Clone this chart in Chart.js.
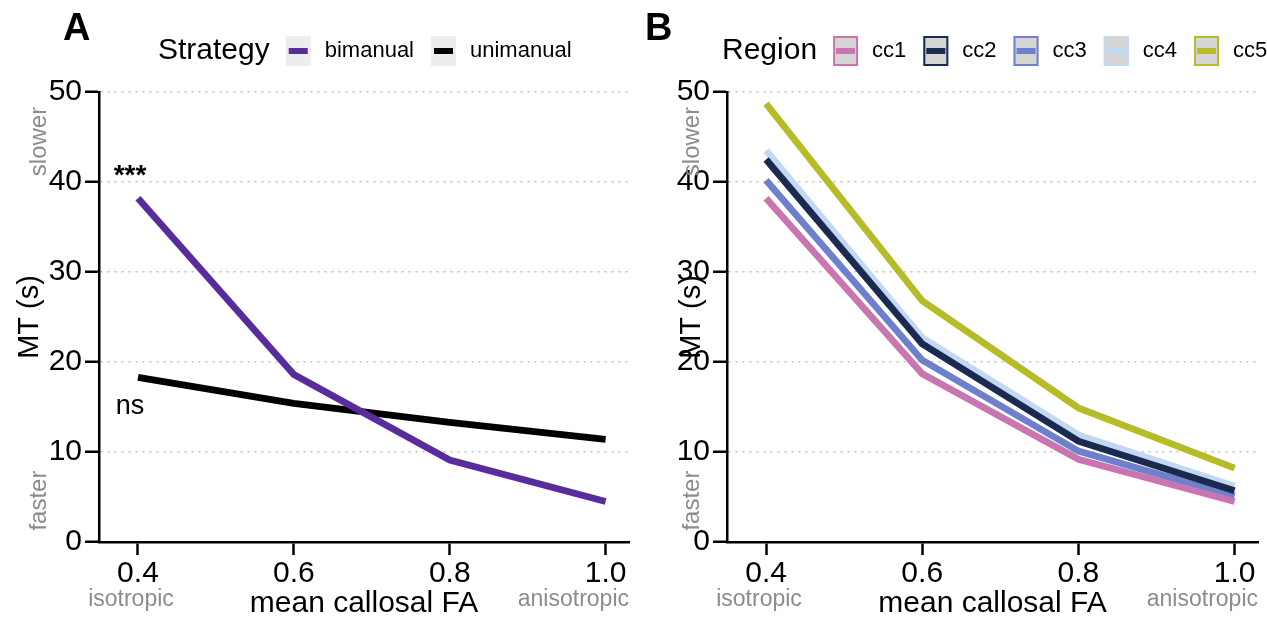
<!DOCTYPE html>
<html>
<head>
<meta charset="utf-8">
<script src="https://cdn.jsdelivr.net/npm/chart.js@4.4.0/dist/chart.umd.min.js"></script>
<style>
  html, body { margin: 0; padding: 0; background: #fff; }
  #wrap { position: relative; width: 1267px; height: 619px; overflow: hidden; }
  #chartA { position: absolute; left: 0; top: 0; }
  #chartB { position: absolute; left: 628px; top: 0; }
</style>
</head>
<body>
<div id="wrap">
  <canvas id="chartA" width="640" height="619"></canvas>
  <canvas id="chartB" width="639" height="619"></canvas>
</div>
<script>
// data
const faValues = [0.4, 0.6, 0.8, 1.0];
const mtTicks = [0, 10, 20, 30, 40, 50];

const bimanual = [38.2, 18.6, 9.1, 4.5];
const unimanual = [18.3, 15.4, 13.3, 11.4];

const cc1 = [38.2, 18.7, 9.2, 4.5];
const cc2 = [42.5, 22.0, 11.2, 5.7];
const cc3 = [40.2, 20.2, 10.1, 5.1];
const cc4 = [43.5, 22.7, 11.9, 6.2];
const cc5 = [48.7, 26.8, 14.9, 8.2];

const FONT = '"Liberation Sans", Arial, Helvetica, sans-serif';

function toPoints(vals) {
  return faValues.map((x, i) => ({ x: x, y: vals[i] }));
}

function line(label, vals, color) {
  return {
    label: label,
    data: toPoints(vals),
    borderColor: color,
    backgroundColor: color,
    borderWidth: 6.8,
    pointRadius: 0,
    tension: 0,
    fill: false
  };
}

// extra drawing: panel letter, legend, side notes
const decor = {
  id: 'decor',
  afterDraw(chart, args, o) {
    const ctx = chart.ctx;
    const xs = chart.scales.x, ys = chart.scales.y;
    ctx.save();

    ctx.fillStyle = '#000';
    ctx.font = 'bold 38px ' + FONT;
    ctx.textAlign = 'left';
    ctx.textBaseline = 'alphabetic';
    ctx.fillText(o.letter, o.letterX, 40);

    // slower / faster
    ctx.fillStyle = '#8c8c8c';
    ctx.font = '24px ' + FONT;
    ctx.textAlign = 'center';
    ctx.textBaseline = 'middle';
    [['slower', 44.5], ['faster', 4.6]].forEach(([t, v]) => {
      ctx.save();
      ctx.translate(o.sideX, ys.getPixelForValue(v));
      ctx.rotate(-Math.PI / 2);
      ctx.fillText(t, 0, 0);
      ctx.restore();
    });

    // isotropic / anisotropic
    ctx.font = '23px ' + FONT;
    ctx.textAlign = 'center';
    ctx.fillText('isotropic', xs.getPixelForValue(faValues[0]) - 7, 600);
    ctx.textAlign = 'right';
    ctx.fillText('anisotropic', chart.chartArea.right, 600);

    // legend
    const cy = 51;
    let x = o.legendX;
    ctx.textAlign = 'left';
    ctx.fillStyle = '#000';
    ctx.font = '30px ' + FONT;
    ctx.fillText(o.legendTitle, x, cy);
    x += ctx.measureText(o.legendTitle).width + 16;
    chart.data.datasets.forEach(ds => {
      if (o.boxed) {
        ctx.fillStyle = '#d5d5d5';
        ctx.fillRect(x, cy - 15, 25, 30);
        ctx.strokeStyle = ds.borderColor;
        ctx.lineWidth = 2;
        ctx.strokeRect(x + 1, cy - 14, 23, 28);
      } else {
        ctx.fillStyle = '#ededed';
        ctx.fillRect(x, cy - 15, 25, 30);
      }
      ctx.strokeStyle = ds.borderColor;
      ctx.lineWidth = 6;
      ctx.beginPath();
      ctx.moveTo(x + 3, cy);
      ctx.lineTo(x + 22, cy);
      ctx.stroke();
      x += 25 + 14;
      ctx.fillStyle = '#000';
      ctx.font = '22px ' + FONT;
      ctx.fillText(ds.label, x, cy);
      x += ctx.measureText(ds.label).width + 17;
    });

    // significance notes
    (o.notes || []).forEach(n => {
      const ds = chart.data.datasets[n.ds];
      const px = xs.getPixelForValue(ds.data[0].x) - 8;
      const py = ys.getPixelForValue(ds.data[0].y) + n.dy;
      ctx.fillStyle = '#000';
      ctx.font = n.font + ' ' + FONT;
      ctx.textAlign = 'center';
      ctx.textBaseline = 'middle';
      ctx.fillText(n.text, px, py);
    });

    ctx.restore();
  }
};

function makeOptions(p) {
  return {
    responsive: false,
    animation: false,
    devicePixelRatio: 1,
    layout: { padding: { top: 92, right: p.padRight, left: 0, bottom: 0 } },
    plugins: {
      legend: { display: false },
      tooltip: { enabled: false },
      decor: p
    },
    scales: {
      x: {
        type: 'linear',
        min: 0.35,
        max: 1.03,
        afterBuildTicks: s => { s.ticks = faValues.map(v => ({ value: v })); },
        afterFit: s => { s.height = 77; },
        ticks: {
          color: '#000',
          font: { size: 30, family: FONT },
          padding: 1,
          callback: v => Number(v).toFixed(1)
        },
        grid: {
          drawOnChartArea: false,
          drawTicks: true,
          tickLength: 13,
          tickWidth: 2.5,
          tickColor: '#000'
        },
        border: { display: true, color: '#000', width: 2.5 },
        title: {
          display: true,
          text: 'mean callosal FA',
          color: '#000',
          font: { size: 30, family: FONT, lineHeight: 1 },
          padding: { top: 0, bottom: 0 }
        }
      },
      y: {
        min: 0,
        max: 50,
        afterBuildTicks: s => { s.ticks = mtTicks.map(v => ({ value: v })); },
        afterFit: s => { s.width = 99; },
        ticks: {
          color: '#000',
          font: { size: 30, family: FONT },
          padding: 3
        },
        grid: {
          color: '#bdbdbd',
          lineWidth: 1.5,
          tickLength: 14,
          tickWidth: 2.5,
          tickColor: '#000',
          tickBorderDash: []
        },
        border: { display: true, color: '#000', width: 2.5, dash: [2, 5] },
        title: {
          display: true,
          text: 'MT (s)',
          color: '#000',
          font: { size: 29, family: FONT },
          padding: { top: p.titlePad, bottom: 0 }
        }
      }
    }
  };
}

new Chart(document.getElementById('chartA'), {
  type: 'line',
  data: {
    datasets: [
      line('bimanual', bimanual, '#582c9a'),
      line('unimanual', unimanual, '#000000')
    ]
  },
  options: makeOptions({
    letter: 'A', letterX: 63, sideX: 39, titlePad: 13, padRight: 11,
    legendTitle: 'Strategy', legendX: 158, boxed: false,
    notes: [
      { ds: 0, text: '***', dy: -22, font: 'bold 28px' },
      { ds: 1, text: 'ns', dy: 29, font: '27px' }
    ]
  }),
  plugins: [decor]
});

new Chart(document.getElementById('chartB'), {
  type: 'line',
  data: {
    datasets: [
      line('cc1', cc1, '#c875b0'),
      line('cc2', cc2, '#1b2a4e'),
      line('cc3', cc3, '#6e80cc'),
      line('cc4', cc4, '#c3d9f3'),
      line('cc5', cc5, '#b6bb28')
    ]
  },
  options: makeOptions({
    letter: 'B', letterX: 17, sideX: 64, titlePad: 47, padRight: 9,
    legendTitle: 'Region', legendX: 94, boxed: true,
    notes: []
  }),
  plugins: [decor]
});
</script>
</body>
</html>
